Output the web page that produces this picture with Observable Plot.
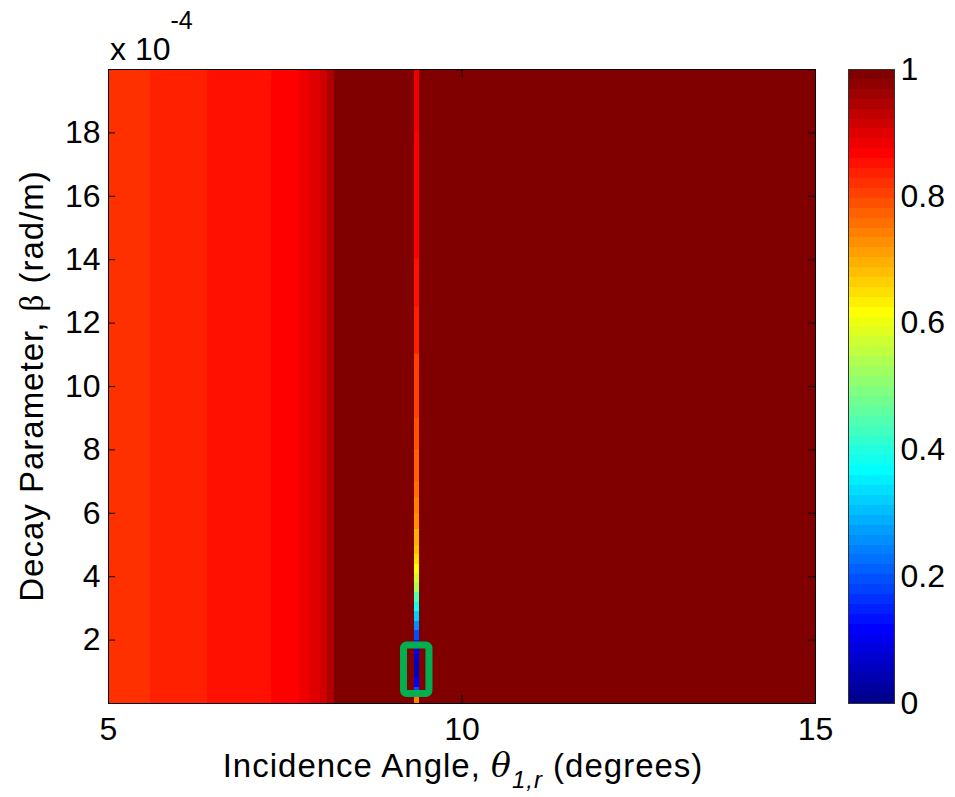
<!DOCTYPE html>
<html><head><meta charset="utf-8">
<script src="https://cdn.jsdelivr.net/npm/d3@7"></script>
<script src="https://cdn.jsdelivr.net/npm/@observablehq/plot@0.6"></script>
<style>
body{margin:0;background:#fff;}
#wrap{position:relative;width:955px;height:797px;overflow:hidden;}
#wrap svg{position:absolute;top:0;background:transparent;}
</style></head><body><div id="wrap"></div>
<script>
// ---- data (beta in units of 1e-4 rad/m, angle in degrees) ----
const xTicks = [5, 10, 15];
const yTicks = [2, 4, 6, 8, 10, 12, 14, 16, 18];
const cbTicks = [0, 0.2, 0.4, 0.6, 0.8, 1];
const angleDomain = [5, 15];
const betaDomain = [0, 20];
// uniform-in-beta vertical bands
const bandStart = [5.0, 5.6, 6.4, 7.3, 7.7, 7.85, 8.0, 8.1, 8.2, 9.40];
const bandEnd   = [5.6, 6.4, 7.3, 7.7, 7.85, 8.0, 8.1, 8.2, 9.33, 15.0];
const bandValue = [0.82, 0.836, 0.852, 0.868, 0.884, 0.9, 0.915, 0.945, 1.0, 1.0];
// narrow resonance line near 9.37 deg
const lineStart = 9.33, lineEnd = 9.40;
const lineBeta  = [0, 0.2, 0.5, 0.8, 1.1, 1.4, 1.7, 2.0, 2.3, 2.6, 2.9, 3.2, 3.5, 3.8, 4.1, 4.4, 4.7, 5.0, 5.5, 6.0, 6.5, 7.0, 8.0, 9.0, 10.0, 11.0, 12.5, 14.0, 16.0, 18.0, 20.0];
const lineValue = [0.74, 0.2, 0.12, 0.06, 0.05, 0.08, 0.14, 0.2, 0.26, 0.32, 0.38, 0.45, 0.52, 0.57, 0.62, 0.65, 0.68, 0.7, 0.72, 0.74, 0.76, 0.77, 0.79, 0.8, 0.81, 0.83, 0.845, 0.86, 0.87, 0.875, 0.88];
// green highlight box
const boxX = [9.18, 9.54];
const boxY = [0.30, 1.83];

// ---- MATLAB jet(64) colormap ----
function jet64(k) { // k = 1..64
  const u = i => (i >= 1 && i <= 16) ? i / 16 : (i <= 31 ? 1 : (i <= 47 ? (48 - i) / 16 : 0));
  const r = (k >= 25) ? u(k - 24) : 0;
  const g = (k >= 9 && k <= 55) ? u(k - 8) : 0;
  const b = (k <= 39) ? u(k + 8) : 0;
  return `rgb(${Math.round(r * 255)},${Math.round(g * 255)},${Math.round(b * 255)})`;
}
const jetInterp = t => jet64(Math.max(1, Math.min(64, Math.floor(t * 64) + 1)));
const colorScale = {type: "linear", domain: [0, 1], interpolate: jetInterp};

const bands = bandStart.map((s, i) => ({x1: s, x2: bandEnd[i], v: bandValue[i]}));
const lineCells = lineBeta.slice(0, -1).map((b, i) => ({y1: b, y2: lineBeta[i + 1], v: lineValue[i]}));
const FONT = "'Liberation Sans', Arial, Helvetica, sans-serif";
const FS = 32;

const main = Plot.plot({
  width: 955, height: 797,
  marginLeft: 108, marginRight: 140, marginTop: 69, marginBottom: 94,
  style: {fontFamily: FONT, fontSize: FS + "px", color: "black", background: "transparent"},
  x: {domain: angleDomain, ticks: xTicks, tickSize: 0, tickPadding: 14, label: null},
  y: {domain: betaDomain, ticks: yTicks, tickSize: 0, tickPadding: 8, label: null},
  color: colorScale,
  marks: [
    Plot.rect(bands, {x1: "x1", x2: "x2", y1: betaDomain[0], y2: betaDomain[1], fill: "v", shapeRendering: "crispEdges"}),
    Plot.rect(lineCells, {x1: lineStart, x2: lineEnd, y1: "y1", y2: "y2", fill: "v", shapeRendering: "crispEdges"}),
    Plot.rect([{x1: boxX[0], x2: boxX[1], y1: boxY[0], y2: boxY[1]}], {x1: "x1", x2: "x2", y1: "y1", y2: "y2", stroke: "#00b050", strokeWidth: 7, fill: "none", rx: 3}),
    Plot.ruleY(yTicks, {x1: angleDomain[0], x2: angleDomain[0] + 0.1, stroke: "black"}),
    Plot.ruleY(yTicks, {x1: angleDomain[1] - 0.1, x2: angleDomain[1], stroke: "black"}),
    Plot.ruleX(xTicks, {y1: betaDomain[0], y2: betaDomain[0] + 0.25, stroke: "black"}),
    Plot.ruleX(xTicks, {y1: betaDomain[1] - 0.25, y2: betaDomain[1], stroke: "black"}),
    Plot.frame({stroke: "black", strokeWidth: 1})
  ]
});
main.style.left = "0px";
document.getElementById("wrap").appendChild(main);

const cbLevels = d3.range(64).map(i => ({y1: i / 64, y2: (i + 1) / 64, v: (i + 0.5) / 64}));
const cb = Plot.plot({
  width: 125, height: 797,
  marginLeft: 18, marginRight: 61, marginTop: 69, marginBottom: 94,
  style: {fontFamily: FONT, fontSize: FS + "px", color: "black", background: "transparent", overflow: "visible"},
  x: {domain: [0, 1], axis: null},
  y: {domain: [0, 1], ticks: cbTicks, axis: "right", tickSize: 0, tickPadding: 6, label: null, tickFormat: d => String(d)},
  color: colorScale,
  marks: [
    Plot.rect(cbLevels, {x1: 0, x2: 1, y1: "y1", y2: "y2", fill: "v", shapeRendering: "crispEdges"}),
    Plot.frame({stroke: "#333", strokeWidth: 1})
  ]
});
cb.style.left = "830px";
document.getElementById("wrap").appendChild(cb);

// axis labels and exponent (text with sub/superscripts)
const svg = d3.select(main);
const LFS = 33;
const xl = svg.append("text").attr("x", 463).attr("y", 777).attr("text-anchor", "middle")
  .attr("font-family", FONT).attr("font-size", LFS).attr("letter-spacing", "1px").attr("fill", "black");
xl.append("tspan").text("Incidence Angle, ");
xl.append("tspan").attr("font-family", "'DejaVu Serif', 'Liberation Serif', serif").attr("font-style", "italic").text("θ");
xl.append("tspan").attr("font-size", 24).attr("dy", 11).attr("font-style", "italic").text("1,r");
xl.append("tspan").attr("dy", -11).text(" (degrees)");

const yl = svg.append("text").attr("transform", "translate(43,386) rotate(-90)").attr("text-anchor", "middle")
  .attr("font-family", FONT).attr("font-size", LFS).attr("letter-spacing", "1px").attr("fill", "black");
yl.append("tspan").text("Decay Parameter, ");
yl.append("tspan").attr("font-family", "'Liberation Serif', serif").text("β");
yl.append("tspan").text(" (rad/m)");

const ex = svg.append("text").attr("x", 110).attr("y", 60).attr("text-anchor", "start")
  .attr("font-family", FONT).attr("font-size", FS).attr("fill", "black");
ex.append("tspan").text("x 10");
ex.append("tspan").attr("dy", -31).attr("font-size", 25).text("-4");
</script></body></html>
